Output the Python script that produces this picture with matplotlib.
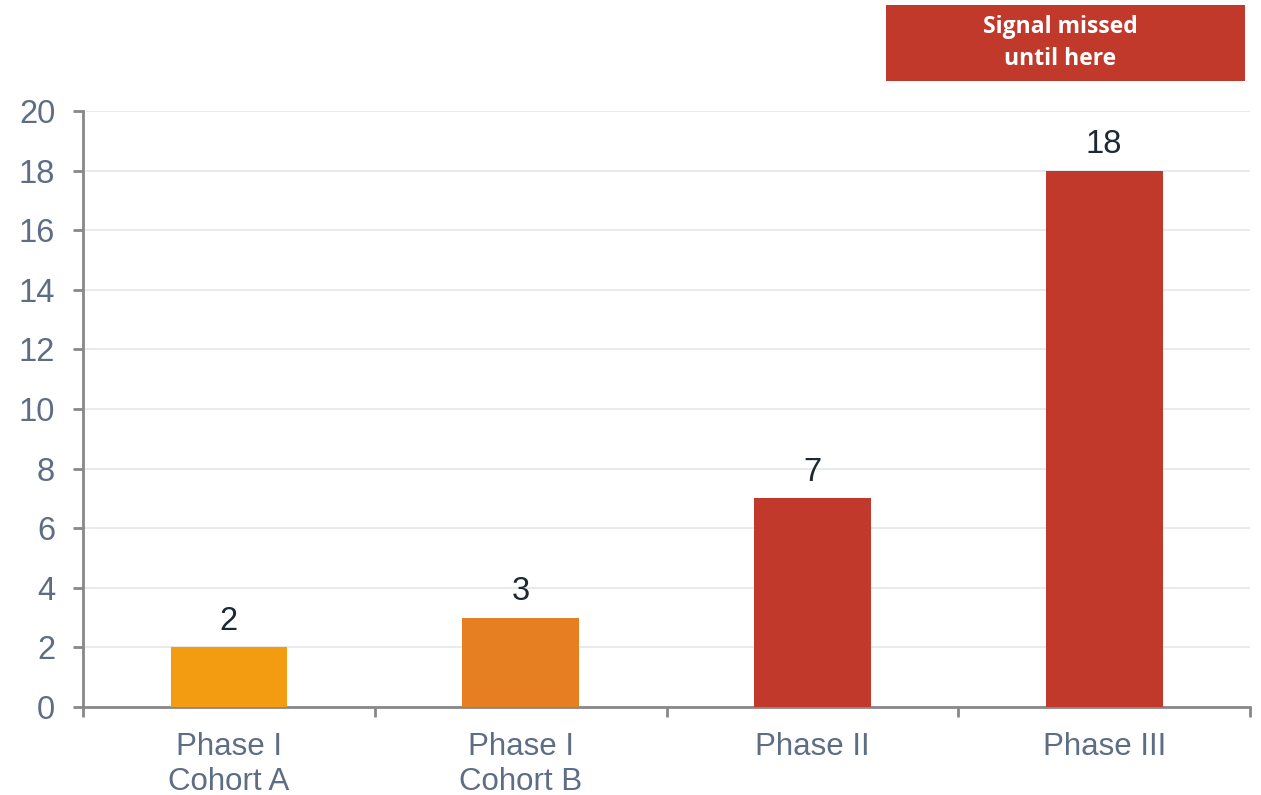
import matplotlib
matplotlib.use("Agg")
import matplotlib.pyplot as plt
from matplotlib.patches import Rectangle
import numpy as np

categories = ["Phase I\nCohort A", "Phase I\nCohort B", "Phase II", "Phase III"]
values = [2, 3, 7, 18]
bar_colors = ["#F39C12", "#E67E22", "#C0392B", "#C0392B"]
y_ticks = [0, 2, 4, 6, 8, 10, 12, 14, 16, 18, 20]
note_text = "Signal missed\nuntil here"

plt.rcParams['font.family'] = ['Liberation Sans', 'DejaVu Sans']

fig = plt.figure(figsize=(12.61, 7.95), dpi=100)
ax = fig.add_axes([0.0658, 0.1107, 0.9255, 0.7497])

x = np.arange(len(categories))
ax.bar(x, values, width=0.4, color=bar_colors, zorder=3)

for xi, v in zip(x, values):
    ax.annotate(str(v), (xi, v), xytext=(0, 12.5), textcoords="offset points",
                ha="center", va="baseline", fontsize=23.5, color="#1C2833")

ax.set_xlim(-0.5, len(categories) - 0.5)
ax.set_ylim(0, 20)
ax.set_yticks(y_ticks)
ax.set_xticks(x)
ax.set_xticklabels(categories, linespacing=1.2)
ax.set_xticks(np.arange(-0.5, len(categories), 1.0), minor=True)

tick_gray = "#5D6D85"
ax.tick_params(axis="y", labelsize=23.5, colors="#888888", labelcolor=tick_gray,
               length=7, width=2, pad=13)
ax.tick_params(axis="x", which="major", length=0, labelsize=22.5,
               labelcolor=tick_gray, pad=18)
ax.tick_params(axis="x", which="minor", length=7, width=2, colors="#888888")

for side in ["top", "right"]:
    ax.spines[side].set_visible(False)
for side in ["left", "bottom"]:
    ax.spines[side].set_color("#888888")
    ax.spines[side].set_linewidth(2)

ax.yaxis.grid(True, color="#E3E7EE", linewidth=1.2, zorder=0)
ax.set_axisbelow(True)

box = Rectangle((0.7026, 0.898), 0.2847, 0.0956, transform=fig.transFigure,
                facecolor="#C0392B", edgecolor="none")
fig.patches.append(box)
fig.text(0.7026 + 0.2847 / 2 - 0.004, 0.898 + 0.0956 / 2, note_text,
         ha="center", va="center", fontsize=16.5, fontweight="bold",
         color="white", family=["Open Sans", "DejaVu Sans"], linespacing=1.45)

fig.savefig("out.png", dpi=100)
